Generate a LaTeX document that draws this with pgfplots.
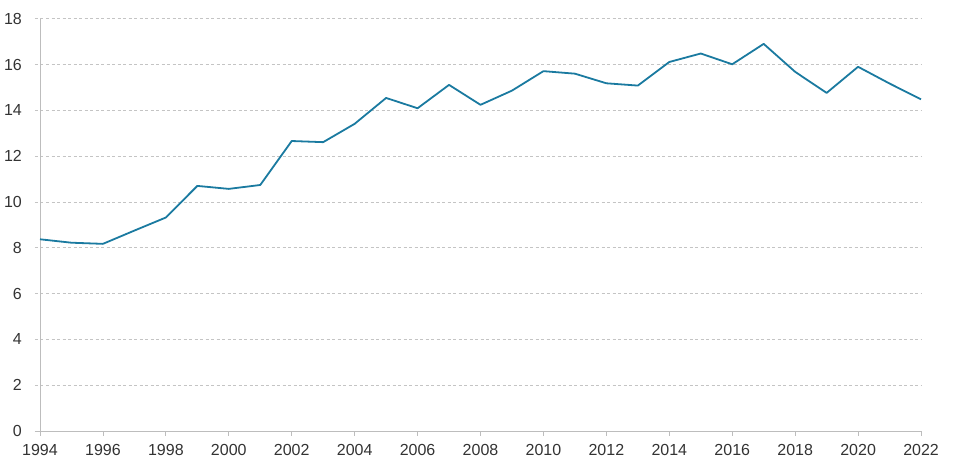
\documentclass[border=0pt]{standalone}
\usepackage{fontspec}
\setmainfont{Liberation Sans}
\usepackage{pgfplots}
\pgfplotsset{compat=1.18}
\definecolor{lineblue}{HTML}{1A7AA0}
\definecolor{gridgrey}{HTML}{C4C4C4}
\definecolor{axisgrey}{HTML}{BDBDBD}
\definecolor{textgrey}{HTML}{333333}
\begin{document}
\begin{tikzpicture}
\begin{axis}[
  scale only axis,
  width=886pt, height=412.3pt,
  xmin=1993.841, xmax=2022,
  ymin=0, ymax=18,
  axis x line=bottom, axis y line=left,
  x axis line style={axisgrey, line width=0.8pt, -},
  y axis line style={draw=none},
  xtick={1994,1996,...,2022},
  ytick={0,2,...,18},
  extra x ticks={1994},
  extra x tick labels={},
  extra x tick style={grid=major, major grid style={solid, axisgrey, line width=0.8pt}, tick style={draw=none}},
  ymajorgrids,
  major grid style={gridgrey, line width=0.7pt, dash pattern=on 3pt off 2.5pt},
  xtick style={axisgrey, line width=0.8pt},
  major tick length=5pt,
  tick align=outside,
  ytick style={draw=none},
  /pgf/number format/1000 sep={},
  /pgf/number format/assume math mode=true,
  tick label style={font=\fontsize{16}{16}\selectfont, text=textgrey, inner sep=0pt},
  x tick label style={anchor=north, yshift=-8pt},
  y tick label style={anchor=east, xshift=-8pt},
  clip=false,
]
\addplot[lineblue, line width=1.8pt, line join=round] coordinates {
(1994,8.37) (1995,8.22) (1996,8.17) (1997,8.75) (1998,9.32) (1999,10.70)
(2000,10.57) (2001,10.74) (2002,12.66) (2003,12.61) (2004,13.41) (2005,14.54)
(2006,14.09) (2007,15.11) (2008,14.24) (2009,14.86) (2010,15.71) (2011,15.60)
(2012,15.18) (2013,15.08) (2014,16.11) (2015,16.48) (2016,16.01) (2017,16.90)
(2018,15.68) (2019,14.76) (2020,15.90) (2021,15.17) (2022,14.48)
};
\end{axis}
\pgfresetboundingbox
\path (-35pt,-39pt) rectangle (923pt,431pt);
\end{tikzpicture}
\end{document}
